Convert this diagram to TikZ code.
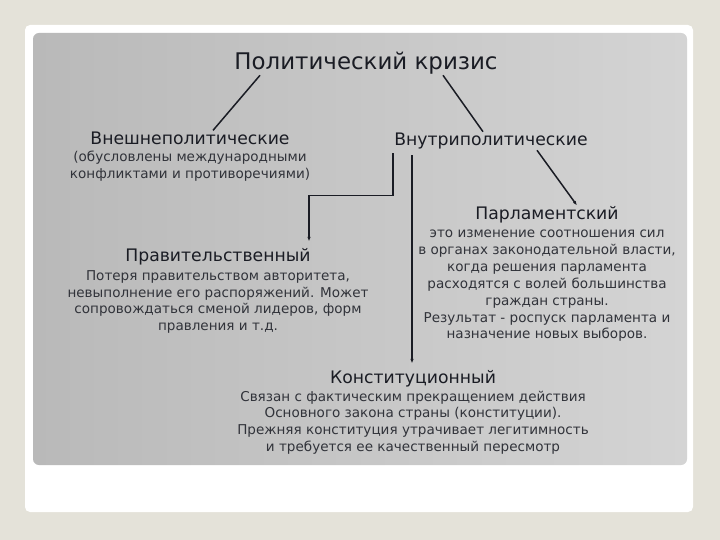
\documentclass[tikz,border=0pt]{standalone}
\usepackage{fontspec}
\setmainfont{DejaVu Sans}
\usetikzlibrary{arrows.meta,positioning,calc}
\definecolor{pagebg}{HTML}{E4E2D9}
\definecolor{panelL}{HTML}{B9B9B9}
\definecolor{panelR}{HTML}{D4D4D4}
\definecolor{ink}{HTML}{1A1C24}
\begin{document}
\begin{tikzpicture}[x=1bp,y=-1bp,
  node distance=2.5bp,
  ttl/.style={font=\fontsize{23}{27}\selectfont,text=ink,inner sep=1bp},
  hd/.style={font=\fontsize{17.3}{20}\selectfont,text=ink,inner sep=1bp},
  txt/.style={font=\fontsize{13.6}{17}\selectfont,text=ink!90,align=center,inner sep=1bp},
  ln/.style={draw=ink,line width=1.5bp},
  a/.style={ln,-{Latex[length=1.6mm,width=1.2mm]}}]
% background
\useasboundingbox (0,0) rectangle (720,540);
\fill[pagebg] (0,0) rectangle (720,540);
\fill[white,rounded corners=5bp] (25,25) rectangle (693,512);
\shade[left color=panelL,right color=panelR,rounded corners=6bp] (33,33) rectangle (687,465);
% nodes
\node[ttl] (crisis) at (366,63) {Политический кризис};
\node[hd] (ext) at (190,138) {Внешнеполитические};
\node[txt,below=4bp of ext] (exttxt) {(обусловлены международными\\конфликтами и противоречиями)};
\node[hd] (int) at (491,141) {Внутриполитические};
\node[hd] (gov) at (218,257) {Правительственный};
\node[txt,below=of gov] (govtxt) {Потеря правительством авторитета,\\невыполнение его распоряжений. Может\\сопровождаться сменой лидеров, форм\\правления и т.д.};
\node[hd] (parl) at (547,215) {Парламентский};
\node[txt,below=4bp of parl] (parltxt) {это изменение соотношения сил\\в органах законодательной власти,\\когда решения парламента\\расходятся с волей большинства\\граждан страны.\\Результат - роспуск парламента и\\назначение новых выборов.};
\node[hd] (const) at (413,379) {Конституционный};
\node[txt,below=1bp of const] (consttxt) {Связан с фактическим прекращением действия\\Основного закона страны (конституции).\\Прежняя конституция утрачивает легитимность\\и требуется ее качественный пересмотр};
% connectors
\draw[ln] ([xshift=-106bp]crisis.south) -- ([xshift=23bp]ext.north);
\draw[ln] ([xshift=77bp]crisis.south) -- ([xshift=-8bp]int.north);
\draw[a] ([xshift=46bp]int.south) -- ([xshift=30bp]parl.north);
\draw[a] ($(int.south)+(-98,3)$) |- ($(gov.north)+(91,-52)$) -- ($(gov.north)+(91,-6)$);
\draw[a] ($(int.south)+(-79,5)$) -- ($(int.south |- const.north)+(-79,-6)$);
\end{tikzpicture}
\end{document}
